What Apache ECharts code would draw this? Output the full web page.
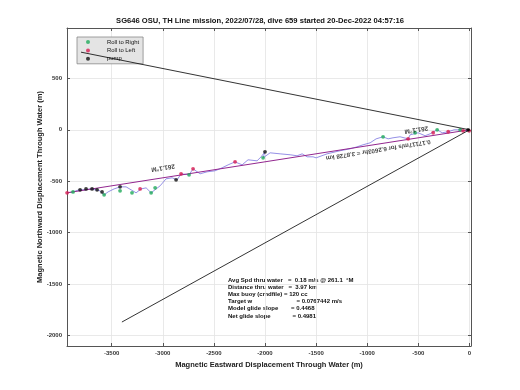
<!DOCTYPE html>
<html><head><meta charset="utf-8">
<script src="https://cdn.jsdelivr.net/npm/echarts@6/dist/echarts.min.js"></script>
<style>html,body{margin:0;padding:0;background:#fff}#c{width:520px;height:390px}</style>
</head><body><div id="c"></div>
<script>
const titleText = 'SG646 OSU, TH Line mission, 2022/07/28, dive 659 started 20-Dec-2022 04:57:16';
const xName = 'Magnetic Eastward Displacement Through Water (m)';
const yName = 'Magnetic Northward Displacement Through Water (m)';
const xTicks = [-3500, -3000, -2500, -2000, -1500, -1000, -500, 0];
const yTicks = [-2000, -1500, -1000, -500, 0, 500];
const xRange = [-3937, 15];
const yRange = [-2103, 990];

const trackX = [-3936,-3878,-3819,-3760,-3711,-3662,-3613,-3574,-3535,-3476,-3418,-3359,-3310,-3261,-3212,-3163,-3114,-3065,-3026,-2968,-2909,-2860,-2821,-2743,-2704,-2635,-2567,-2489,-2420,-2361,-2293,-2224,-2166,-2078,-2038,-2000,-2019,-1950,-1852,-1754,-1686,-1637,-1588,-1530,-1500,-1393,-1266,-1168,-1100,-1041,-972,-913,-845,-796,-748,-679,-600,-581,-502,-434,-385,-316,-267,-208,-150,-91,-32,0];
const trackY = [-613,-604,-584,-584,-575,-584,-594,-633,-604,-575,-555,-555,-584,-613,-575,-565,-613,-575,-545,-477,-467,-487,-428,-438,-380,-428,-409,-399,-370,-341,-312,-341,-292,-302,-263,-214,-273,-224,-234,-243,-253,-234,-263,-263,-273,-234,-204,-185,-166,-146,-127,-88,-68,-88,-78,-68,-88,-49,-29,-58,-39,0,-29,-19,0,0,-10,0];

const rollRight = [[-3878,-604],[-3574,-633],[-3418,-594],[-3301,-613],[-3114,-613],[-3075,-565],[-2743,-438],[-2019,-273],[-845,-68],[-532,-29],[-316,0],[-91,0]];
const rollLeft = [[-3936,-613],[-3222,-575],[-2821,-428],[-2704,-380],[-2293,-312],[-600,-88],[-355,-29],[-208,-19],[-62,-10],[-3,-10]];
const pump = [[-3809,-584],[-3751,-575],[-3692,-575],[-3643,-584],[-3594,-604],[-3418,-555],[-2870,-487],[-2000,-214],[-13,0]];

const courseLine = [[0,0],[-3936,-613]];
const blackLine1 = [[-3800,755],[0,0]];
const blackLine2 = [[-3400,-1870],[0,0]];

const annotations = [
  {pos: [-2997, -370], text: '261.1°M', size: 6.4},
  {pos: [-520, 0], text: '261.1°M', size: 6.4},
  {pos: [-893, -195], text: '0.17117m/s for 6.2603hr = 3.8728 km', size: 6.2}
];

const statsLabels = ['Avg Spd thru water', 'Distance thru water', 'Max buoy (cmdfile)', 'Target w', 'Model glide slope', 'Net glide slope'];
const statsValues = ['=  0.18 m/s @ 261.1  °M', '=  3.97 km', '= 120 cc', '= 0.0767442 m/s', '= 0.4468', '= 0.4981'];
const statsValueX = [288, 288.5, 284, 296.5, 291, 292.5];
const statsRowY = [281, 288, 295, 302.3, 309.3, 316.7];

const FONT = 'Liberation Sans';
const track = trackX.map((x, i) => [x, trackY[i]]);
const fmt = v => String(Math.round(v));

const axisCommon = {
  axisLine: {show: true, onZero: false, lineStyle: {color: '#555', width: 1}},
  axisTick: {show: true, inside: true, length: 3, lineStyle: {color: '#555'}},
};

const graphics = [];
statsLabels.forEach((t, i) => {
  graphics.push({type: 'text', left: 228, top: statsRowY[i] - 3.5, style: {text: t, font: 'bold 6px ' + FONT, fill: '#111'}});
  graphics.push({type: 'text', left: statsValueX[i], top: statsRowY[i] - 3.5, style: {text: statsValues[i], font: 'bold 6px ' + FONT, fill: '#111'}});
});

const chart = echarts.init(document.getElementById('c'), null, {renderer: 'canvas'});
chart.setOption({
  backgroundColor: '#fff',
  animation: false,
  title: {text: titleText, left: 'center', top: 17, textStyle: {fontFamily: FONT, fontSize: 7.6, fontWeight: 'bold', color: '#111'}, padding: 0},
  grid: {left: 67, right: 49, top: 28, bottom: 44, containLabel: false, outerBoundsMode: 'none'},
  legend: {
    orient: 'vertical', left: 77, top: 37, z: 1, itemWidth: 14, itemHeight: 4, itemGap: 2.4,
    padding: [2, 4, 2, 9], backgroundColor: '#e4e4e4', borderColor: '#888', borderWidth: 0.8,
    textStyle: {fontFamily: FONT, fontSize: 5.9, color: '#111', padding: [0, 0, 0, 7]},
    data: [
      {name: 'Roll to Right', icon: 'circle'},
      {name: 'Roll to Left', icon: 'circle'},
      {name: 'pump', icon: 'circle'}
    ]
  },
  xAxis: [
    Object.assign({}, axisCommon, {
      type: 'value', min: xRange[0], max: xRange[1], position: 'bottom',
      name: xName, nameLocation: 'middle', nameGap: 15, nameMoveOverlap: false,
      nameTextStyle: {fontFamily: FONT, fontSize: 7.5, fontWeight: 'bold', color: '#222'},
      axisTick: Object.assign({}, axisCommon.axisTick, {customValues: xTicks}),
      axisLabel: {customValues: xTicks, formatter: fmt, margin: 4, fontFamily: FONT, fontSize: 6, fontWeight: 'bold', color: '#333', showMinLabel: true, showMaxLabel: true, hideOverlap: false},
      splitLine: {show: true, lineStyle: {color: '#e3e3e3', width: 0.8}}
    }),
    Object.assign({}, axisCommon, {
      type: 'value', min: xRange[0], max: xRange[1], position: 'top',
      axisTick: Object.assign({}, axisCommon.axisTick, {customValues: xTicks}),
      axisLabel: {show: false}, splitLine: {show: false}
    })
  ],
  yAxis: [
    Object.assign({}, axisCommon, {
      type: 'value', min: yRange[0], max: yRange[1], position: 'left',
      name: yName, nameLocation: 'middle', nameGap: 23, nameMoveOverlap: false,
      nameTextStyle: {fontFamily: FONT, fontSize: 7.5, fontWeight: 'bold', color: '#222'},
      axisTick: Object.assign({}, axisCommon.axisTick, {customValues: yTicks}),
      axisLabel: {customValues: yTicks, formatter: fmt, margin: 5, fontFamily: FONT, fontSize: 6, fontWeight: 'bold', color: '#333', hideOverlap: false},
      splitLine: {show: true, lineStyle: {color: '#e3e3e3', width: 0.8}}
    }),
    Object.assign({}, axisCommon, {
      type: 'value', min: yRange[0], max: yRange[1], position: 'right',
      axisTick: Object.assign({}, axisCommon.axisTick, {customValues: yTicks}),
      axisLabel: {show: false}, splitLine: {show: false}
    })
  ],
  graphic: graphics,
  series: [
    {type: 'line', name: 'line1', data: blackLine1, symbol: 'none', lineStyle: {color: '#000', width: 0.8}, silent: true, z: 8},
    {type: 'line', name: 'line2', data: blackLine2, symbol: 'none', lineStyle: {color: '#000', width: 0.8}, silent: true, z: 8},
    {type: 'line', name: 'track', data: track, symbol: 'none', lineStyle: {color: '#7a74e0', width: 0.8}, silent: true, z: 3},
    {type: 'line', name: 'course', data: courseLine, symbol: 'none', lineStyle: {color: '#93278f', width: 1}, silent: true, z: 4},
    {type: 'scatter', name: 'Roll to Right', data: rollRight, symbol: 'circle', symbolSize: 3.8, itemStyle: {color: '#1faa5a'}, z: 5},
    {type: 'scatter', name: 'Roll to Left', data: rollLeft, symbol: 'circle', symbolSize: 3.8, itemStyle: {color: '#d81b50'}, z: 5},
    {type: 'scatter', name: 'pump', data: pump, symbol: 'circle', symbolSize: 3.8, itemStyle: {color: '#111'}, z: 6},
    {type: 'scatter', name: 'annot', silent: true, symbolSize: 0, z: 7,
      data: annotations.map(a => ({value: a.pos, label: {show: true, formatter: a.text, rotate: 189, position: 'inside', fontSize: a.size, fontFamily: FONT, fontWeight: 'bold', color: '#111'}}))}
  ]
});
</script></body></html>
